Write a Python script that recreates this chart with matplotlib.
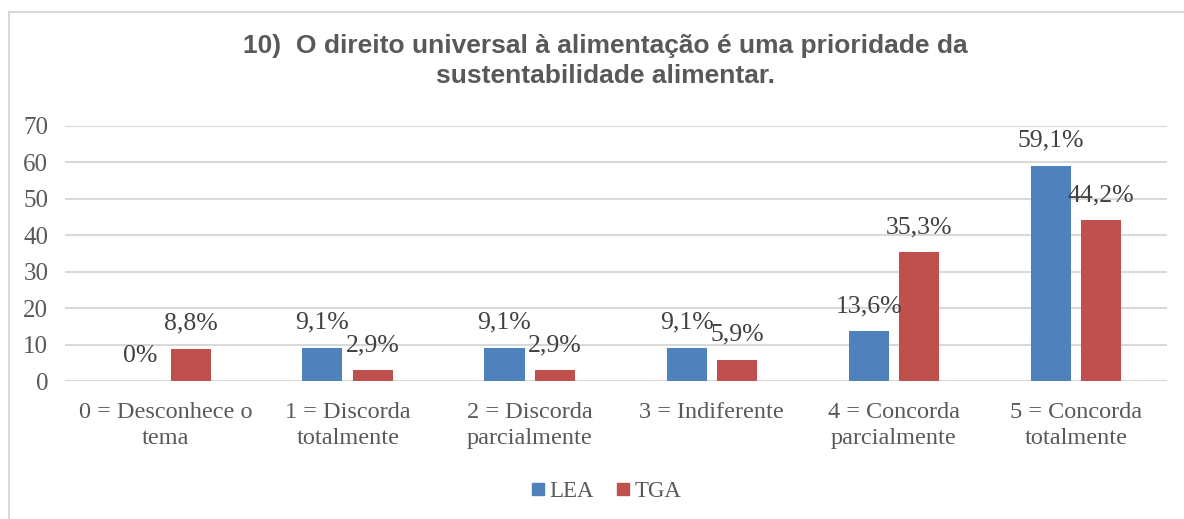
import numpy as np
import matplotlib.pyplot as plt
from matplotlib.patches import Rectangle
from matplotlib.lines import Line2D

categorias = ["0 = Desconhece o\ntema", "1 = Discorda\ntotalmente", "2 = Discorda\nparcialmente",
              "3 = Indiferente", "4 = Concorda\nparcialmente", "5 = Concorda\ntotalmente"]
lea = [0, 9.1, 9.1, 9.1, 13.6, 59.1]
tga = [8.8, 2.9, 2.9, 5.9, 35.3, 44.2]
lea_txt = ["0%", "9,1%", "9,1%", "9,1%", "13,6%", "59,1%"]
tga_txt = ["8,8%", "2,9%", "2,9%", "5,9%", "35,3%", "44,2%"]
yticks = [0, 10, 20, 30, 40, 50, 60, 70]

azul = "#4F81BD"
vermelho = "#C0504D"
cinza = "#595959"
serif = "Liberation Serif"

fig = plt.figure(figsize=(11.84, 5.19), dpi=100)
ax = fig.add_axes([65 / 1184, 1 - 381 / 519, (1167 - 65) / 1184, (381 - 126) / 519])

# moldura do gráfico
fig.patches.append(Rectangle((9 / 1184, -0.1), 1.2, 1 - 12 / 519 + 0.1, transform=fig.transFigure,
                             fill=False, edgecolor="#D9D9D9", linewidth=1.5))

x = np.arange(len(categorias))
w = 0.22
off = 0.139
b1 = ax.bar(x - off, lea, w, color=azul, zorder=3)
b2 = ax.bar(x + off, tga, w, color=vermelho, zorder=3)

for bars, txts in [(b1, lea_txt), (b2, tga_txt)]:
    for b, t in zip(bars, txts):
        ax.annotate(t, (b.get_x() + b.get_width() / 2, b.get_height()), xytext=(0, 18),
                    textcoords="offset points", ha="center", va="center",
                    fontsize=18.5, color="#404040", family=serif)

ax.set_xlim(-0.553, len(categorias) - 0.5)
ax.set_ylim(0, 70)
ax.set_yticks(yticks)
ax.set_xticks(x)
ax.set_xticklabels(categorias, fontsize=17.5, color=cinza, family=serif, linespacing=1.3)
ax.set_yticklabels([str(v) for v in yticks], fontsize=18, color=cinza, family=serif)
ax.tick_params(length=0)
ax.tick_params(axis="y", pad=12)
ax.tick_params(axis="x", pad=15)
ax.grid(axis="y", color="#D9D9D9", linewidth=1.5, zorder=0)
for s in ax.spines.values():
    s.set_visible(False)

fig.text(605 / 1184, 1 - 61 / 519, "10)  O direito universal à alimentação é uma prioridade da\nsustentabilidade alimentar.",
         ha="center", va="center", fontsize=19, fontweight="bold", color=cinza,
         family="Liberation Sans", linespacing=1.3)

handles = [Line2D([], [], marker="s", linestyle="", color=azul, markersize=8.5),
           Line2D([], [], marker="s", linestyle="", color=vermelho, markersize=8.5)]
fig.legend(handles, ["LEA", "TGA"], loc="center", bbox_to_anchor=(604 / 1184, 1 - 491 / 519), ncol=2,
           frameon=False, handletextpad=0.0, columnspacing=0.8, handlelength=1.0,
           prop={"family": serif, "size": 16.5}, labelcolor=cinza)

plt.savefig("out.png")
plt.close()
